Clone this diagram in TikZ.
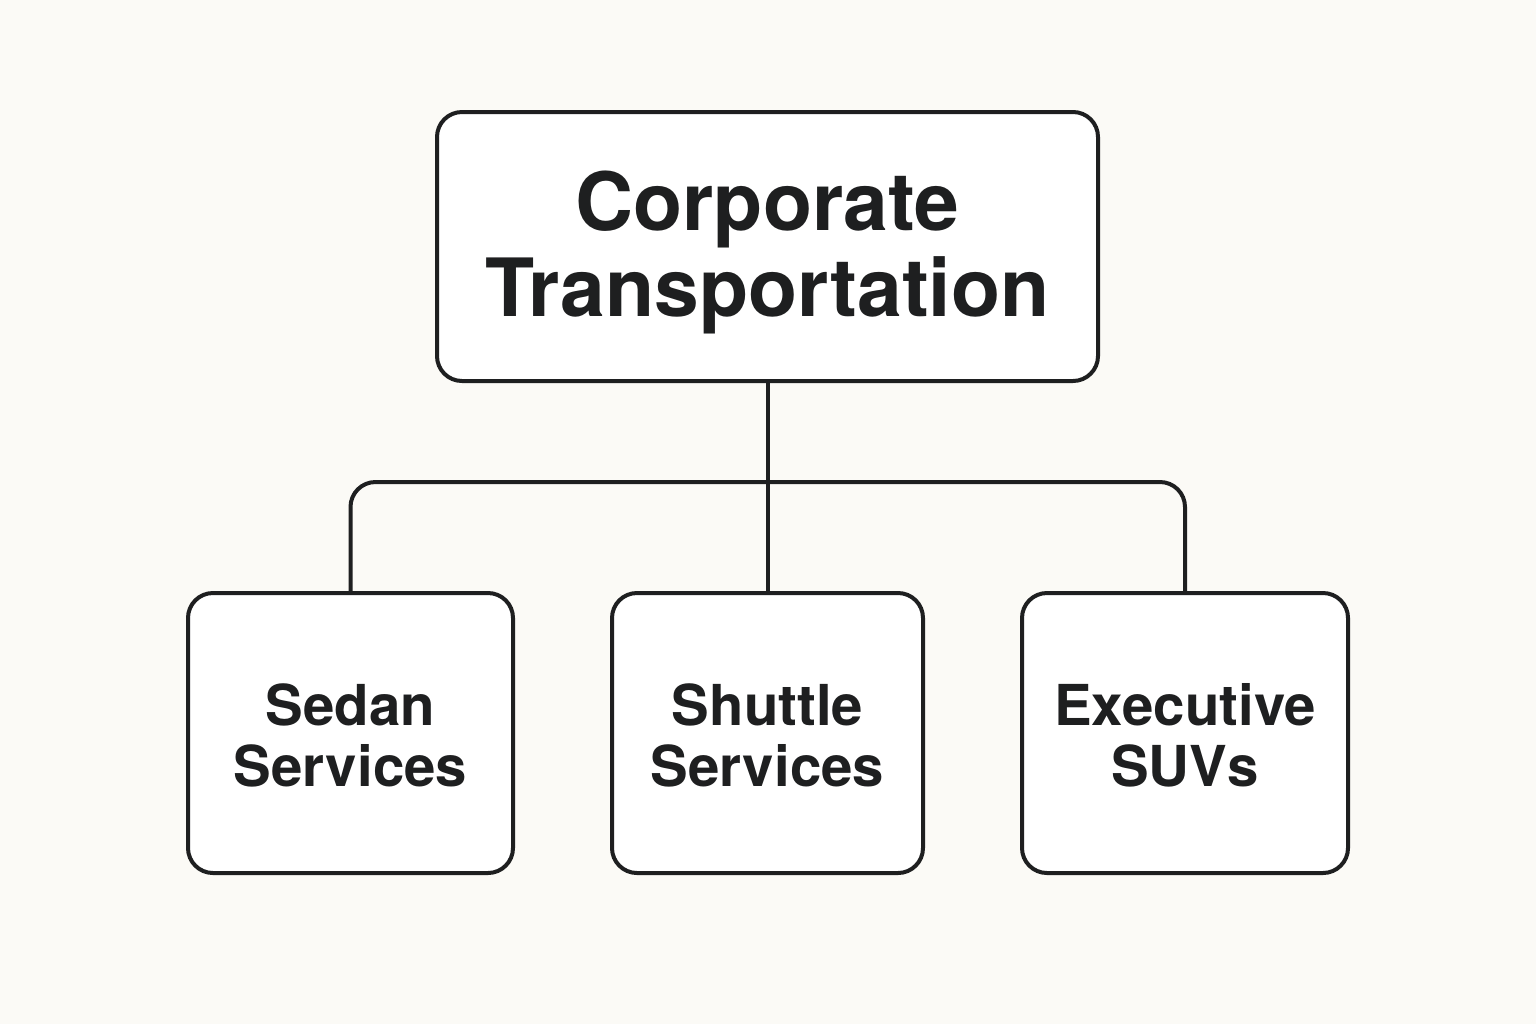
\documentclass[tikz,border=0pt]{standalone}
\usepackage{fontspec}
\setmainfont{TeX Gyre Heros}
\definecolor{bg}{HTML}{FBFAF6}
\definecolor{ink}{HTML}{1E1F20}
\begin{document}
\begin{tikzpicture}[x=0.5pt,y=-0.5pt,
  box/.style={draw=ink,line width=2pt,rounded corners=12.5pt,fill=white,inner sep=0pt},
  conn/.style={draw=ink,line width=2pt,rounded corners=12.5pt},
  title/.style={font=\fontsize{40.2}{43}\selectfont\bfseries,text=ink,align=center},
  sub/.style={font=\fontsize{28.2}{30.5}\selectfont\bfseries,text=ink,align=center}]
\fill[bg] (0,0) rectangle (1536,1024);
\useasboundingbox (0,0) rectangle (1536,1024);
\node[box,minimum width=330.5pt,minimum height=134.5pt] (top) at (767.5,246.5) {};
\node[box,minimum width=162.5pt,minimum height=140pt] (sedan) at (350.5,733) {};
\node[box,minimum width=155.5pt,minimum height=140pt] (shuttle) at (767.5,733) {};
\node[box,minimum width=163pt,minimum height=140pt] (exec) at (1185,733) {};
\node[title] at ([yshift=-3pt]top.center) {Corporate\\Transportation};
\node[sub] at ([yshift=-1pt]sedan.center) {Sedan\\Services};
\node[sub] at ([yshift=-1pt]shuttle.center) {Shuttle\\Services};
\node[sub] at ([yshift=-1pt]exec.center) {Executive\\SUVs};
\coordinate (j) at (767.5,482);
\draw[conn] (top.south) -- (shuttle.north);
\draw[conn] (sedan.north) -- (sedan.north |- j) -- (exec.north |- j) -- (exec.north);
\end{tikzpicture}
\end{document}
